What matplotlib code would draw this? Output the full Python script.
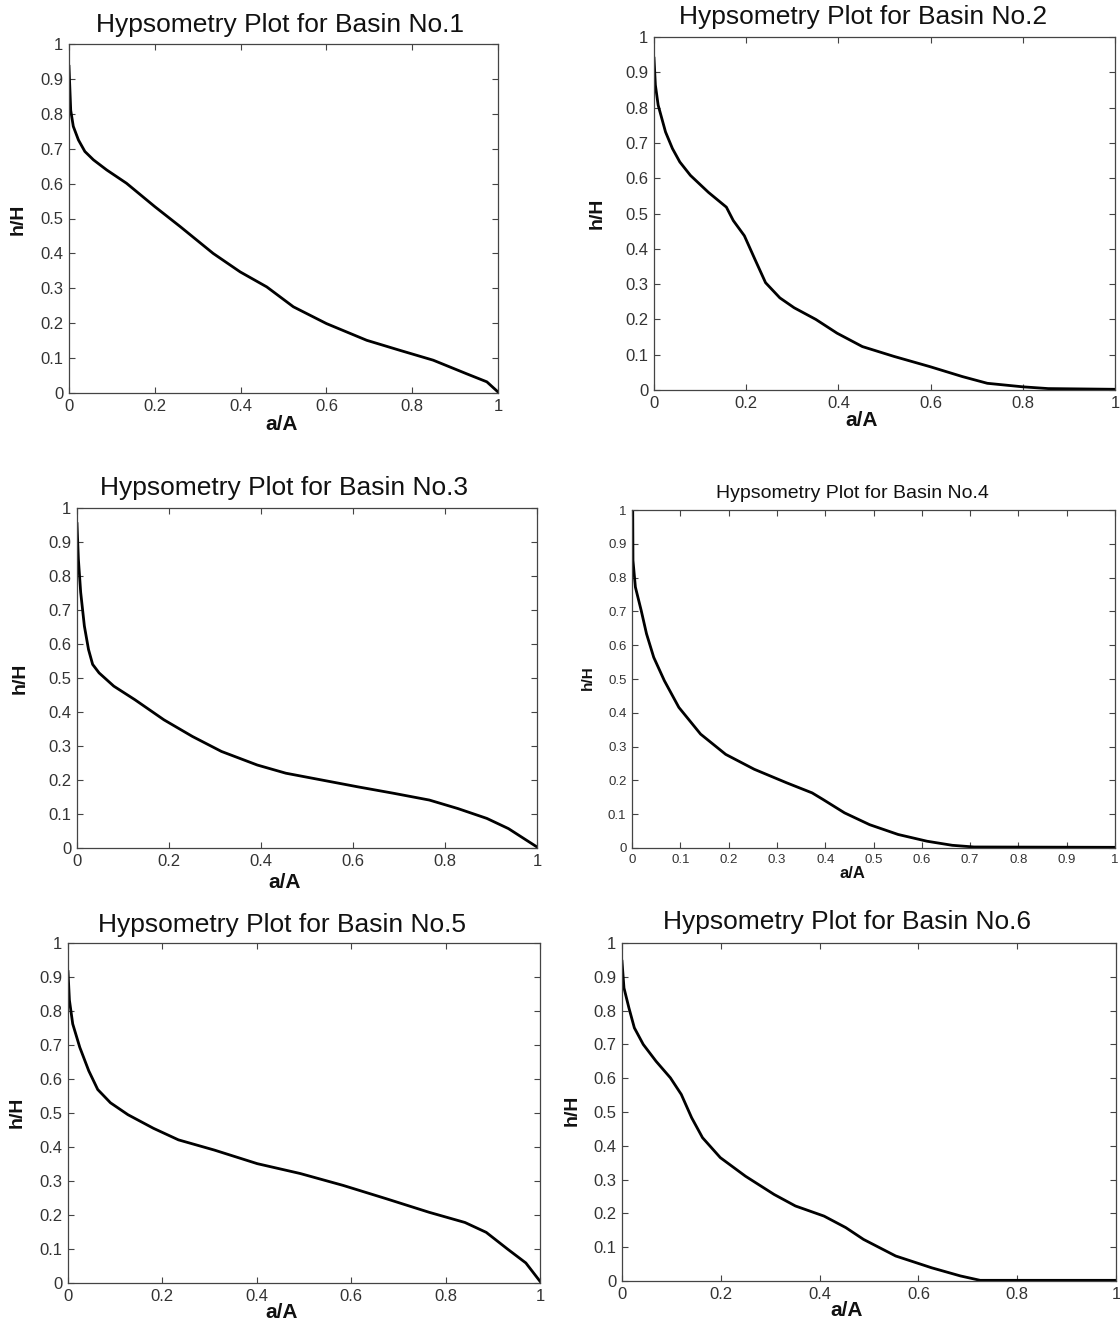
import matplotlib
matplotlib.use("Agg")
import matplotlib.pyplot as plt
import numpy as np

plt.rcParams["font.family"] = ["Liberation Sans", "DejaVu Sans"]

W, H = 1120, 1320

# a/A and h/H
x1 = [0, 0.004, 0.010, 0.022, 0.037, 0.057, 0.088, 0.134, 0.2, 0.259, 0.336, 0.399, 0.461,
      0.523, 0.6, 0.694, 0.772, 0.849, 0.927, 0.974, 1.0]
y1 = [0.936, 0.81, 0.764, 0.725, 0.692, 0.668, 0.639, 0.601, 0.534, 0.477, 0.40, 0.347, 0.304,
      0.247, 0.199, 0.151, 0.122, 0.094, 0.055, 0.032, 0.003]

x2 = [0, 0.003, 0.009, 0.025, 0.04, 0.056, 0.079, 0.118, 0.157, 0.172, 0.196, 0.219, 0.242,
      0.273, 0.304, 0.351, 0.397, 0.452, 0.521, 0.599, 0.669, 0.723, 0.8, 0.855, 1.0]
y2 = [0.94, 0.864, 0.807, 0.731, 0.684, 0.646, 0.608, 0.56, 0.518, 0.48, 0.437, 0.37, 0.304,
      0.261, 0.233, 0.20, 0.161, 0.123, 0.095, 0.066, 0.038, 0.019, 0.009, 0.004, 0.002]

x3 = [0, 0.003, 0.008, 0.016, 0.025, 0.034, 0.048, 0.08, 0.126, 0.189, 0.251, 0.314, 0.392,
      0.454, 0.532, 0.61, 0.688, 0.766, 0.828, 0.891, 0.938, 0.977, 1.0]
y3 = [0.954, 0.85, 0.752, 0.653, 0.584, 0.54, 0.515, 0.476, 0.436, 0.377, 0.328, 0.284, 0.244,
      0.22, 0.20, 0.18, 0.161, 0.141, 0.116, 0.087, 0.057, 0.023, 0.003]

x4 = [0.0015, 0.002, 0.007, 0.019, 0.03, 0.045, 0.067, 0.097, 0.142, 0.194, 0.253, 0.32, 0.373,
      0.395, 0.44, 0.492, 0.551, 0.611, 0.663, 0.708, 1.0]
y4 = [1.0, 0.851, 0.772, 0.703, 0.634, 0.564, 0.495, 0.416, 0.337, 0.277, 0.233, 0.193, 0.163,
      0.144, 0.104, 0.069, 0.04, 0.02, 0.008, 0.003, 0.002]

x5 = [0, 0.003, 0.01, 0.025, 0.044, 0.063, 0.09, 0.127, 0.181, 0.234, 0.31, 0.401, 0.492,
      0.583, 0.674, 0.765, 0.841, 0.886, 0.932, 0.97, 1.0]
y5 = [0.916, 0.832, 0.762, 0.693, 0.624, 0.569, 0.53, 0.495, 0.455, 0.421, 0.391, 0.351, 0.322,
      0.287, 0.248, 0.208, 0.178, 0.149, 0.099, 0.059, 0.005]

x6 = [0, 0.004, 0.014, 0.025, 0.043, 0.069, 0.098, 0.12, 0.141, 0.163, 0.199, 0.25, 0.308,
      0.351, 0.409, 0.453, 0.489, 0.554, 0.627, 0.685, 0.725, 1.0]
y6 = [0.946, 0.867, 0.808, 0.749, 0.70, 0.65, 0.601, 0.552, 0.483, 0.424, 0.365, 0.31, 0.256,
      0.222, 0.192, 0.158, 0.123, 0.074, 0.039, 0.015, 0.002, 0.002]

curves = [(x1, y1), (x2, y2), (x3, y3), (x4, y4), (x5, y5), (x6, y6)]
titles = [f"Hypsometry Plot for Basin No.{i}" for i in range(1, 7)]

# axes boxes in pixels: left, right, top, bottom
boxes = [(69, 498, 44, 393), (654, 1115, 37, 390), (77, 537, 508, 848),
         (632, 1115, 510, 848), (68, 540, 943, 1283), (622, 1116, 943, 1281)]
# title centre, xlabel centre, ylabel centre (pixels)
title_xy = [(280, 25), (863, 17), (284, 488), (852, 493), (282, 925), (847, 922)]
xlab_xy = [(282, 425), (862, 420), (285, 882), (852, 873), (282, 1312), (847, 1310)]
ylab_xy = [(18, 219), (597, 213), (20, 678), (588, 678), (17, 1112), (572, 1110)]


def fmt(v):
    return "0" if v == 0 else ("1" if v == 1 else f"{v:g}")


def frac(ax_box, px, py):
    l, r, t, b = ax_box
    return (px - l) / (r - l), (b - py) / (b - t)


fig = plt.figure(figsize=(W / 100, H / 100), dpi=100)
fig.patch.set_facecolor("white")

for i, ((xs, ys), title, box) in enumerate(zip(curves, titles, boxes)):
    l, r, t, b = box
    ax = fig.add_axes([l / W, 1 - b / H, (r - l) / W, (b - t) / H])
    small = i == 3
    ax.plot(xs, ys, color="black", lw=2.0, solid_joinstyle="round")
    ax.set_xlim(0, 1)
    ax.set_ylim(0, 1)
    xt = np.round(np.arange(0, 1.01, 0.1 if small else 0.2), 1)
    yt = np.round(np.arange(0, 1.01, 0.1), 1)
    ax.set_xticks(xt)
    ax.set_yticks(yt)
    ax.set_xticklabels([fmt(v) for v in xt])
    ax.set_yticklabels([fmt(v) for v in yt])
    ax.tick_params(direction="in", top=True, right=True, length=4, width=0.8,
                   labelsize=9.5 if small else 12, labelcolor="#333333",
                   color="#444444", pad=4)
    for s in ax.spines.values():
        s.set_color("#444444")
        s.set_linewidth(0.9)

    tx, ty = frac(box, *title_xy[i])
    ax.text(tx, ty, title, transform=ax.transAxes, ha="center", va="center",
            fontsize=14 if small else 19, color="#111111")

    ax.set_xlabel("a/A", fontsize=12 if small else 15, fontweight="bold", color="#111111")
    ax.xaxis.set_label_coords(*frac(box, *xlab_xy[i]))
    ax.xaxis.label.set_va("center")
    ax.set_ylabel("h/H", fontsize=11 if small else 14, fontweight="bold", color="#111111")
    ax.yaxis.set_label_coords(*frac(box, *ylab_xy[i]))
    ax.yaxis.label.set_va("center")

fig.savefig("out.png", dpi=100, facecolor="white")
